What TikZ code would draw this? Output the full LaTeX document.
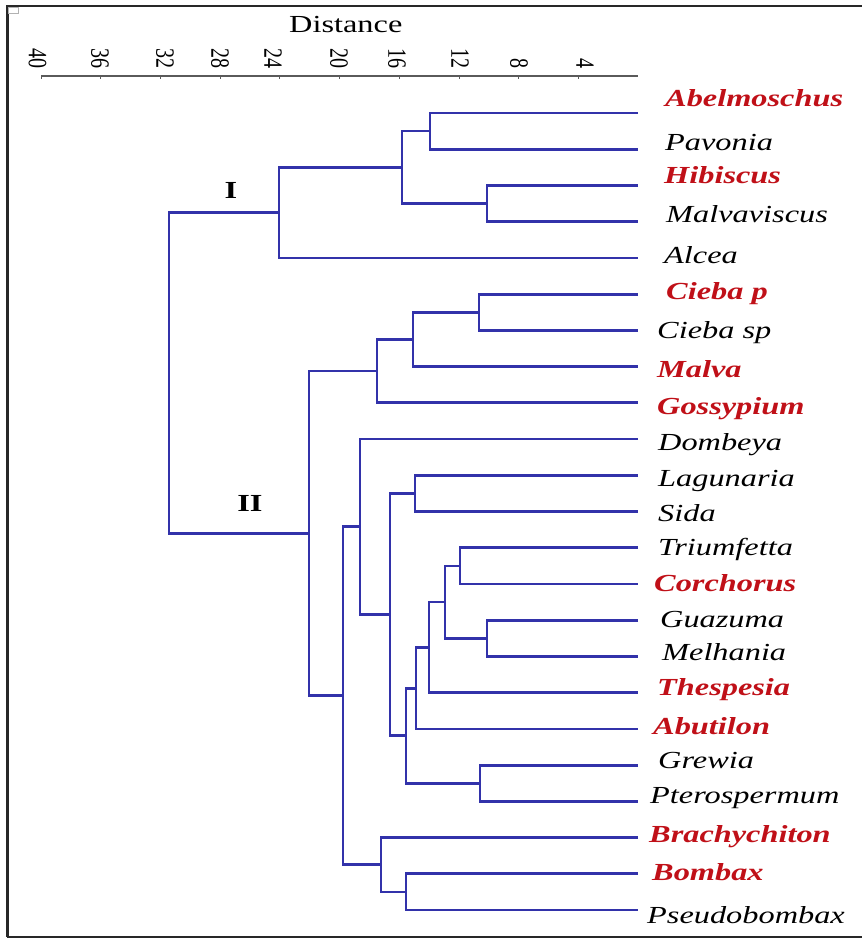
\documentclass[tikz,border=0pt]{standalone}
\usepackage{graphicx}
\usepackage{fontspec}
\setmainfont{Liberation Serif}
\usetikzlibrary{calc}

\definecolor{branchblue}{RGB}{50,50,170}
\definecolor{taxred}{RGB}{192,16,24}
\definecolor{framegray}{RGB}{40,40,40}
\definecolor{axisgray}{RGB}{90,90,90}

% all lettering in this figure is set a little wide
\newcommand\stretchx[1]{\scalebox{1.32}[1]{#1}}

% join two clusters (#3, #4) at distance position x = #2; the new node is #1
\newcommand\joinat[4]{%
  \coordinate (#1m) at ($(#3)!.5!(#4)$);
  \coordinate (#1x) at (#2,0);
  \coordinate (#1) at (#1x |- #1m);
  \draw[branch] (#3) -| (#1) |- (#4);
}

\begin{document}
\begin{tikzpicture}[x=1pt,y=-1pt,
  branch/.style={draw=branchblue, line width=2.7pt},
  axisline/.style={draw=axisgray, line width=1.1pt},
  taxon/.style={anchor=base west, inner sep=0pt,
    font=\fontsize{24.5}{28}\selectfont\itshape},
  keytaxon/.style={taxon, text=taxred,
    font=\fontsize{24.5}{28}\selectfont\bfseries\itshape},
  ticklab/.style={anchor=south, inner sep=0pt,
    font=\fontsize{20}{20}\selectfont},
  clusterlab/.style={inner sep=0pt,
    font=\fontsize{24.5}{28}\selectfont\bfseries},
]
\useasboundingbox (0,0) rectangle (862,938);

% frame
\draw[framegray, line width=2.6pt] (7.5,5) -- (7.5,937);
\draw[framegray, line width=2pt] (6.5,6) -- (862,6);
\draw[framegray, line width=1.6pt] (6.5,937) -- (862,937);
\draw[gray!60, line width=1pt] (8,7) rectangle (18,13);

% distance axis
\node[anchor=base west, inner sep=0pt, font=\fontsize{24.5}{28}\selectfont]
  (axtitle) at (289,32) {\stretchx{Distance}};
\coordinate (ax0) at (41,76);
\coordinate (ax1) at (638,76);
\draw[axisline] (ax0) -- (ax1);
\foreach \d in {40,36,...,4}
  \draw[axisline, line width=0.8pt] ({638-14.925*\d},76) -- ++(0,2.5);
\foreach \d/\x in {40/37.5,36/100,32/165,28/220,24/273,20/339,16/397,12/460,8/519,4/585}
  \node[ticklab] (tick\d) at (\x,69) {\stretchx{\rotatebox{-90}{\d}}};

% leaf tips
\foreach \i in {1,...,23}
  \coordinate (L\i) at (638,{113+36.23*(\i-1)});

% cluster I
\joinat{a1}{430}{L1}{L2}
\joinat{a2}{487}{L3}{L4}
\joinat{a3}{402}{a1}{a2}
\joinat{nI}{279}{a3}{L5}
% cluster II
\joinat{b1}{479}{L6}{L7}
\joinat{b2}{413}{b1}{L8}
\joinat{b3}{377}{b2}{L9}
\joinat{c1}{415}{L11}{L12}
\joinat{c2}{460}{L13}{L14}
\joinat{c3}{487}{L15}{L16}
\joinat{c4}{445}{c2}{c3}
\joinat{c5}{429}{c4}{L17}
\joinat{c6}{416}{c5}{L18}
\joinat{c7}{480}{L19}{L20}
\joinat{c8}{406}{c6}{c7}
\joinat{c9}{390}{c1}{c8}
\joinat{c10}{360}{L10}{c9}
\joinat{d1}{406}{L22}{L23}
\joinat{d2}{381}{L21}{d1}
\joinat{c11}{343}{c10}{d2}
\joinat{nII}{309}{b3}{c11}
% root
\joinat{root}{169}{nI}{nII}

% cluster labels
\node[clusterlab] (labI) at (231,190) {\stretchx{I}};
\node[clusterlab] (labII) at (250,503) {\stretchx{II}};

% taxon names
\node[keytaxon] (t1)  at (665,106) {\stretchx{Abelmoschus}};
\node[taxon]    (t2)  at (665,150) {\stretchx{Pavonia}};
\node[keytaxon] (t3)  at (664,183) {\stretchx{Hibiscus}};
\node[taxon]    (t4)  at (666,222) {\stretchx{Malvaviscus}};
\node[taxon]    (t5)  at (664,263) {\stretchx{Alcea}};
\node[keytaxon] (t6)  at (666,299) {\stretchx{Cieba p}};
\node[taxon]    (t7)  at (657,338) {\stretchx{Cieba sp}};
\node[keytaxon] (t8)  at (657,377) {\stretchx{Malva}};
\node[keytaxon] (t9)  at (657,414) {\stretchx{Gossypium}};
\node[taxon]    (t10) at (658,450) {\stretchx{Dombeya}};
\node[taxon]    (t11) at (658,486) {\stretchx{Lagunaria}};
\node[taxon]    (t12) at (658,521) {\stretchx{Sida}};
\node[taxon]    (t13) at (658,555) {\stretchx{Triumfetta}};
\node[keytaxon] (t14) at (654,591) {\stretchx{Corchorus}};
\node[taxon]    (t15) at (660,627) {\stretchx{Guazuma}};
\node[taxon]    (t16) at (662,660) {\stretchx{Melhania}};
\node[keytaxon] (t17) at (657,695) {\stretchx{Thespesia}};
\node[keytaxon] (t18) at (653,734) {\stretchx{Abutilon}};
\node[taxon]    (t19) at (658,768) {\stretchx{Grewia}};
\node[taxon]    (t20) at (650,803) {\stretchx{Pterospermum}};
\node[keytaxon] (t21) at (649,842) {\stretchx{Brachychiton}};
\node[keytaxon] (t22) at (652,880) {\stretchx{Bombax}};
\node[taxon]    (t23) at (647,923) {\stretchx{Pseudobombax}};
\end{tikzpicture}
\end{document}
